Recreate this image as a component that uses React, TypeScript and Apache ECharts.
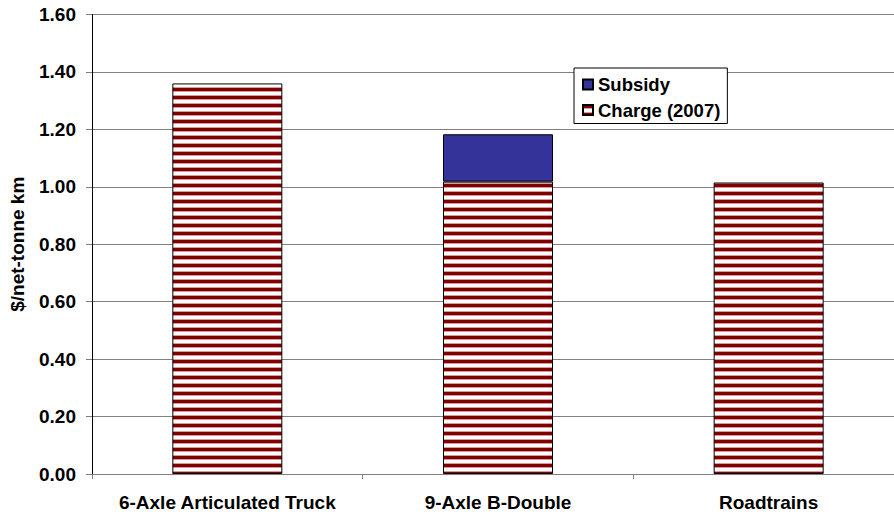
import React, { useEffect, useRef } from "react";
import * as echarts from "echarts";

// Cost per net-tonne km by vehicle class
const categories = ["6-Axle Articulated Truck", "9-Axle B-Double", "Roadtrains"];
const chargeValues = [1.36, 1.018, 1.015];
const subsidyValues: (number | string)[] = ["-", 0.165, "-"];
const yTicks = { min: 0, max: 1.6, interval: 0.2 };

const FONT = "Liberation Sans, Arial, sans-serif";
const FS = 19;

// Horizontal dark-red / white striped fill used for the charge bars
function makeStripes(): HTMLCanvasElement {
  const c = document.createElement("canvas");
  c.width = 8;
  c.height = 8;
  const ctx = c.getContext("2d")!;
  ctx.fillStyle = "#ffffff";
  ctx.fillRect(0, 0, 8, 8);
  ctx.fillStyle = "#800000";
  ctx.fillRect(0, 0, 8, 3);
  ctx.fillStyle = "#d89a9a";
  ctx.fillRect(0, 3, 8, 1);
  ctx.fillRect(0, 7, 8, 1);
  return c;
}

export default function App() {
  const ref = useRef<HTMLDivElement>(null);

  useEffect(() => {
    if (!ref.current) return;
    const chart = echarts.init(ref.current, undefined, { renderer: "svg" });
    const stripes = { image: makeStripes(), repeat: "repeat" as const };

    chart.setOption({
      animation: false,
      backgroundColor: "#ffffff",
      textStyle: { fontFamily: FONT },
      // the plot runs a little past the right edge of the visible frame
      grid: { left: 92, top: 14.5, right: 0, bottom: 40, containLabel: false },
      legend: {
        orient: "vertical",
        left: 574,
        top: 68,
        data: ["Subsidy", "Charge (2007)"],
        backgroundColor: "#ffffff",
        borderColor: "#000000",
        borderWidth: 1,
        padding: [7, 7, 4, 8],
        itemWidth: 10,
        itemHeight: 10,
        itemGap: 6.5,
        icon: "rect",
        textStyle: { fontFamily: FONT, fontWeight: "bold", fontSize: 18.5, color: "#000" },
      },
      xAxis: {
        type: "category",
        data: categories,
        boundaryGap: true,
        axisLine: { lineStyle: { color: "#808080", width: 1 } },
        axisTick: { show: true, length: 5, lineStyle: { color: "#808080" } },
        axisLabel: {
          margin: 19,
          fontFamily: FONT,
          fontWeight: "bold",
          fontSize: FS,
          color: "#000",
          interval: 0,
        },
      },
      yAxis: {
        type: "value",
        min: yTicks.min,
        max: yTicks.max,
        interval: yTicks.interval,
        name: "$/net-tonne km",
        nameLocation: "middle",
        nameGap: 65,
        nameTextStyle: { fontFamily: FONT, fontWeight: "bold", fontSize: FS, color: "#000" },
        axisLine: { show: true, lineStyle: { color: "#000000", width: 1 } },
        axisTick: { show: true, inside: false, length: 6, lineStyle: { color: "#808080" } },
        splitLine: { show: true, lineStyle: { color: "#808080", width: 1 } },
        axisLabel: {
          margin: 16,
          fontFamily: FONT,
          fontWeight: "bold",
          fontSize: FS,
          color: "#000",
          formatter: (v: number) => v.toFixed(2),
        },
      },
      series: [
        {
          name: "Charge (2007)",
          type: "bar",
          stack: "total",
          barWidth: 110,
          data: chargeValues,
          itemStyle: { color: stripes, borderColor: "#000000", borderWidth: 1 },
        },
        {
          name: "Subsidy",
          type: "bar",
          stack: "total",
          barWidth: 110,
          data: subsidyValues,
          itemStyle: { color: "#333399", borderColor: "#000000", borderWidth: 1 },
        },
      ],
    });

    return () => chart.dispose();
  }, []);

  return (
    <div
      style={{
        position: "absolute",
        left: 0,
        top: 0,
        width: 894,
        height: 514,
        overflow: "hidden",
      }}
    >
      <div ref={ref} style={{ width: 904, height: 514 }} />
    </div>
  );
}
